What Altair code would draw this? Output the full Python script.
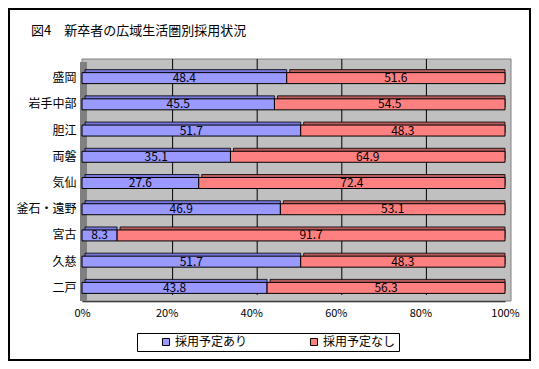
import altair as alt
import pandas as pd

regions = ["盛岡", "岩手中部", "胆江", "両磐", "気仙", "釜石・遠野", "宮古", "久慈", "二戸"]
with_plan = [48.4, 45.5, 51.7, 35.1, 27.6, 46.9, 8.3, 51.7, 43.8]
without_plan = [51.6, 54.5, 48.3, 64.9, 72.4, 53.1, 91.7, 48.3, 56.3]
series_names = ["採用予定あり", "採用予定なし"]
series_colors = ["#9999FF", "#FF8080"]
shade_colors = ["#7777DD", "#B85C5C"]
title_text = "図4　新卒者の広域生活圏別採用状況"
x_ticks = [0, 0.2, 0.4, 0.6, 0.8, 1.0]

rows = []
for r, a, b in zip(regions, with_plan, without_plan):
    rows.append({"region": r, "series": series_names[0], "order": 0, "value": a})
    rows.append({"region": r, "series": series_names[1], "order": 1, "value": b})
df = pd.DataFrame(rows)

W, H = 423, 236
FONT = "Noto Sans CJK JP"
BAR = 11

one = pd.DataFrame({"a": [0]})

xscale = alt.Scale(domain=[0, 1], nice=False)
xaxis = alt.Axis(values=x_ticks, format="%", grid=False, ticks=False, labelFlush=False,
                 domainColor="black", domainWidth=1.5, labelFont=FONT,
                 labelFontSize=11, labelPadding=6, labelColor="black", title=None)

# decorative 3D frame of the plot
wall = alt.Chart(one).mark_rect(fill="#C0C0C0", stroke="#808080", strokeWidth=1).encode(
    x=alt.value(0), x2=alt.value(W + 6), y=alt.value(-6), y2=alt.value(H)
)
side = alt.Chart(one).mark_rect(fill="#808080").encode(
    x=alt.value(-2), x2=alt.value(5), y=alt.value(-3), y2=alt.value(H)
)
grid = alt.Chart(pd.DataFrame({"t": x_ticks[1:-1]})).mark_rule(color="black", xOffset=6).encode(
    x=alt.X("t:Q", axis=xaxis, scale=xscale),
    y=alt.value(-6), y2=alt.value(H - 6)
)

base = alt.Chart(df).transform_stack(
    stack="value", groupby=["region"], as_=["v0", "v1"], offset="normalize",
    sort=[alt.SortField("order", "ascending")]
)

yenc = alt.Y("region:N", sort=regions, scale=alt.Scale(paddingInner=0, paddingOuter=0),
             axis=alt.Axis(title=None, ticks=False, domain=False, labelFont=FONT,
                           labelFontSize=12, labelPadding=6, labelColor="black"))

shade = base.mark_bar(size=BAR, xOffset=3, yOffset=-3, stroke="black", strokeWidth=0.8).encode(
    x=alt.X("v0:Q", axis=xaxis, scale=xscale),
    x2="v1:Q",
    y=yenc,
    color=alt.condition(f"datum.series === '{series_names[0]}'",
                        alt.value(shade_colors[0]), alt.value(shade_colors[1])),
)

bars = base.mark_bar(size=BAR, stroke="black", strokeWidth=1).encode(
    x=alt.X("v0:Q", scale=xscale, axis=xaxis),
    x2="v1:Q",
    y=yenc,
    color=alt.Color("series:N", scale=alt.Scale(domain=series_names, range=series_colors),
                    legend=alt.Legend(title=None, orient="none", legendX=55, legendY=268,
                                      direction="horizontal", columns=2,
                                      strokeColor="black", fillColor="white", padding=3,
                                      symbolType="square", symbolSize=50,
                                      symbolStrokeColor="black", symbolStrokeWidth=1,
                                      labelFont=FONT, labelFontSize=12, labelColor="black",
                                      columnPadding=40, symbolOffset=20, labelOffset=3)),
)

labels = base.transform_calculate(mid="(datum.v0 + datum.v1) / 2").mark_text(
    font=FONT, fontSize=12, color="black", baseline="middle"
).encode(
    x=alt.X("mid:Q", axis=xaxis, scale=xscale),
    y=yenc,
    text=alt.Text("value:Q", format=".1f"),
)

title = alt.Chart(pd.DataFrame({"t": [title_text]})).mark_text(
    font=FONT, fontSize=13, color="black", align="left", baseline="middle"
).encode(x=alt.value(-51), y=alt.value(-34), text="t:N")

frame = alt.Chart(one).mark_rect(filled=False, stroke="black", strokeWidth=2).encode(
    x=alt.value(-73), x2=alt.value(448), y=alt.value(-56), y2=alt.value(295)
)

chart = alt.layer(wall, side, grid, shade, bars, labels, title, frame).properties(
    width=W, height=H,
    autosize=alt.AutoSizeParams(type="none"),
    padding={"left": 74, "top": 57, "right": 26, "bottom": 60},
    background="white",
).configure_view(stroke="transparent")

chart.save("out.html", embed_options={"renderer": "svg", "actions": False})
